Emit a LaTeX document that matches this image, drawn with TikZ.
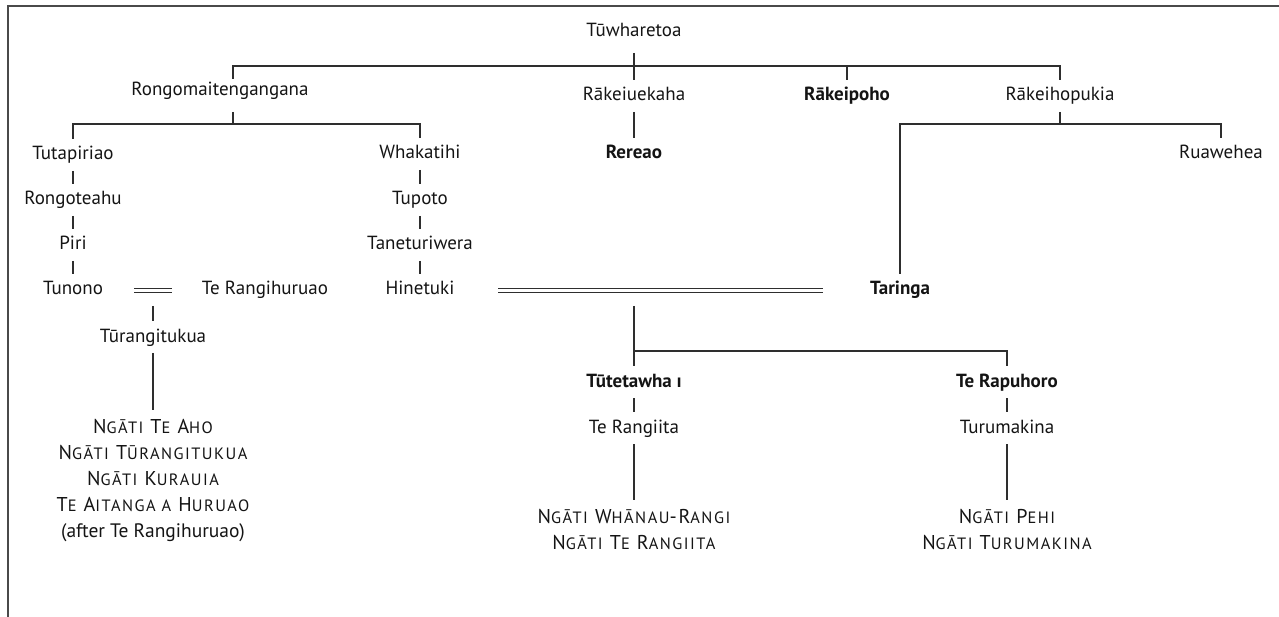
\documentclass[tikz,border=0pt]{standalone}
\usepackage{fontspec}
\setmainfont{PT Sans}
\usetikzlibrary{calc}
\definecolor{ink}{HTML}{141414}
\definecolor{rulegray}{HTML}{2E2E2E}
\definecolor{framegray}{HTML}{4A4A4A}
% hand-made small capitals for the iwi names
\newcommand\smc[1]{{\fontsize{16.4}{26}\selectfont #1}}

\begin{document}
\begin{tikzpicture}[x=1pt,y=-1pt,
  person/.style={anchor=base, inner xsep=0pt, inner ysep=0pt,
    text height=14pt, text depth=4pt, outer ysep=7pt, outer xsep=0pt,
    font=\fontsize{19}{22}\selectfont, text=ink},
  chief/.style={person, font=\fontsize{19}{22}\selectfont\bfseries},
  tribes/.style={anchor=north, align=center, inner sep=0pt, outer ysep=9pt,
    font=\fontsize{20}{26}\selectfont\addfontfeature{LetterSpace=9}, text=ink},
  link/.style={draw=rulegray, line width=1.1pt},
  wed/.style={draw=rulegray, line width=1.2pt, double=white, double distance=2.4pt}]

\useasboundingbox (0,0) rectangle (1279,617);
\draw[framegray, line width=2pt] (7.5,617) -- (7.5,6) -- (1279,6);

% generations
\node[person] (tuw) at (634,37) {Tūwharetoa};

\node[person] (rongo)  at (220,96)  {Rongomaitengangana};
\node[person] (rakeiu) at (634,101) {Rākeiuekaha};
\node[chief]  (rakeip) at (847,101) {Rākeipoho};
\node[person] (rakeih) at (1060,101) {Rākeihopukia};

\node[person] (tutap)  at (73,160)  {Tutapiriao};
\node[person] (whaka)  at (420,159) {Whakatihi};
\node[chief]  (rereao) at (634,159) {Rereao};
\node[person] (ruaw)   at (1221,159) {Ruawehea};

\node[person] (rongot) at (73,205)  {Rongoteahu};
\node[person] (tupoto) at (420,205) {Tupoto};

\node[person] (piri)   at (73,250)  {Piri};
\node[person] (tanet)  at (420,250) {Taneturiwera};

\node[person] (tunono)  at (73,295)  {Tunono};
\node[person] (terangi) at (265,295) {Te Rangihuruao};
\node[person] (hinet)   at (420,295) {Hinetuki};
\node[chief]  (taringa) at (900,295) {Taringa};

\node[person] (turang) at (153,342) {Tūrangitukua};

\node[chief]  (tutet) at (634,387)  {Tūtetawha ı};
\node[chief]  (terap) at (1007,387) {Te Rapuhoro};

\node[person] (terangiita) at (634,433)  {Te Rangiita};
\node[person] (turum)      at (1007,433) {Turumakina};

% descendant iwi
\node[tribes] (iwiA) at (153,410) {N\smc{GĀTI} T\smc{E} A\smc{HO}\\
  N\smc{GĀTI} T\smc{ŪRANGITUKUA}\\
  N\smc{GĀTI} K\smc{URAUIA}\\
  T\smc{E} A\smc{ITANGA A} H\smc{URUAO}\\
  {\fontsize{19.5}{26}\selectfont\addfontfeature{LetterSpace=0}(after Te Rangihuruao)}};
\node[tribes] (iwiB) at (634,500) {N\smc{GĀTI} W\smc{HĀNAU}-R\smc{ANGI}\\
  N\smc{GĀTI} T\smc{E} R\smc{ANGIITA}};
\node[tribes] (iwiC) at (1007,500) {N\smc{GĀTI} P\smc{EHI}\\
  N\smc{GĀTI} T\smc{URUMAKINA}};

% children of Tūwharetoa
\coordinate (bar1) at (634,66);
\coordinate (rongoaxis) at (233,0);
\draw[link] ([yshift=-5pt]tuw.south) -- (rakeiu.north);
\draw[link] ($(rongo.north -| rongoaxis)+(0,4)$) -- (rongoaxis |- bar1)
  -- (rakeih.north |- bar1) -- (rakeih.north);
\draw[link] (rakeip.north |- bar1) -- (rakeip.north);

% children of Rongomaitengangana
\coordinate (bar2) at (233,124);
\draw[link] ($(rongo.south -| rongoaxis)+(0,5)$) -- (rongoaxis |- bar2);
\draw[link] (tutap.north) -- (tutap.north |- bar2) -- (whaka.north |- bar2) -- (whaka.north);

\draw[link] (rakeiu) -- (rereao);

% children of Rākeihopukia
\coordinate (bar3) at (1060,124);
\draw[link] (rakeih.south) -- (rakeih.south |- bar3);
\draw[link] (taringa.north) -- (taringa.north |- bar3) -- (ruaw.north |- bar3) -- (ruaw.north);

% direct lines
\draw[link] (tutap) -- (rongot);
\draw[link] (rongot) -- (piri);
\draw[link] (piri) -- (tunono);
\draw[link] (whaka) -- (tupoto);
\draw[link] (tupoto) -- (tanet);
\draw[link] (tanet) -- (hinet);

% Tunono = Te Rangihuruao
\coordinate (w1a) at (134,290.5);
\coordinate (w1b) at (172,290.5);
\coordinate (w1c) at (153,306);
\draw[wed] (w1a) -- (w1b);
\draw[link] (w1c) -- (turang);
\draw[link] (turang) -- (iwiA);

% Hinetuki = Taringa
\coordinate (w2a) at (498,290.5);
\coordinate (w2b) at (823,290.5);
\coordinate (w2c) at (634,306);
\coordinate (kids) at (634,351);
\draw[wed] (w2a) -- (w2b);
\draw[link] (w2c) -- (tutet);
\draw[link] (kids) -- (terap.north |- kids) -- (terap.north);
\draw[link] (tutet) -- (terangiita);
\draw[link] (terangiita) -- (iwiB);
\draw[link] (terap) -- (turum);
\draw[link] (turum) -- (iwiC);
\end{tikzpicture}
\end{document}
